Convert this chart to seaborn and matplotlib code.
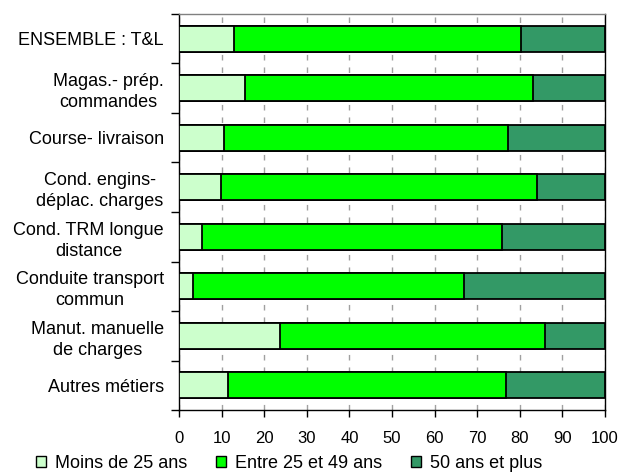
import matplotlib
matplotlib.use("Agg")
import matplotlib.pyplot as plt
from matplotlib.patches import Patch
import numpy as np
import pandas as pd
import seaborn as sns

# Occupations (multi-line labels are centred on each other)
categories = [
    "ENSEMBLE : T&L",
    "Magas.- prép.\ncommandes",
    "Course- livraison",
    "Cond. engins-\ndéplac. charges",
    "Cond. TRM longue\ndistance",
    "Conduite transport\ncommun",
    "Manut. manuelle\nde charges",
    "Autres métiers",
]

# Age-group shares (%)
moins_25 = [12.8, 15.5, 10.6, 9.8, 5.5, 3.4, 23.7, 11.6]
entre_25_49 = [67.4, 67.6, 66.6, 74.3, 70.3, 63.4, 62.2, 65.1]
plus_50 = [19.8, 16.9, 22.8, 15.9, 24.2, 33.2, 14.1, 23.3]

series_names = ["Moins de 25 ans", "Entre 25 et 49 ans", "50 ans et plus"]
colors = ["#CCFFCC", "#00FF00", "#339966"]
x_ticks = [0, 10, 20, 30, 40, 50, 60, 70, 80, 90, 100]

sns.set_theme(style="white")
plt.rcParams["font.family"] = ["Liberation Sans", "DejaVu Sans"]
plt.rcParams["font.size"] = 12
plt.rcParams["text.color"] = "black"
plt.rcParams["xtick.color"] = "black"
plt.rcParams["ytick.color"] = "black"

df = pd.DataFrame({
    "metier": categories,
    "moins": moins_25,
    "entre": entre_25_49,
    "plus": plus_50,
})
# cumulative ends of each stacked segment
df["c1"] = df["moins"]
df["c2"] = df["moins"] + df["entre"]
df["c3"] = df["moins"] + df["entre"] + df["plus"]

fig = plt.figure(figsize=(6.21, 4.73), dpi=100)
ax = fig.add_axes([179 / 621, 1 - 410 / 473, (605 - 179) / 621, (410 - 14) / 473])

# draw stacked segments back to front
for col, color in zip(["c3", "c2", "c1"], colors[::-1]):
    sns.barplot(data=df, x=col, y="metier", orient="h", color=color,
                width=0.52, edgecolor="black", linewidth=1.3,
                saturation=1, ax=ax, zorder=3)

ax.set_xlim(0, 100)
ax.set_ylim(len(categories) - 0.5, -0.5)
ax.set_xlabel("")
ax.set_ylabel("")

ax.set_xticks(x_ticks)
ax.set_xticklabels([str(t) for t in x_ticks], fontsize=12)
ax.tick_params(axis="x", direction="out", length=5, width=1, color="black",
               labelcolor="black", bottom=True, pad=10)

ax.set_yticks(np.arange(len(categories)))
ax.set_yticklabels(categories, fontsize=13)
for lbl in ax.get_yticklabels():
    lbl.set_multialignment("center")
    lbl.set_linespacing(1.3)
    lbl.set_color("black")
ax.tick_params(axis="y", which="major", length=0, pad=11)
ax.set_yticks(np.arange(len(categories) + 1) - 0.5, minor=True)
ax.tick_params(axis="y", which="minor", direction="out", length=6, width=1,
               color="black", left=True)

ax.set_axisbelow(True)
ax.xaxis.grid(True, color="#A0A0A0", linewidth=1, linestyle=(0, (4, 5)))
ax.yaxis.grid(False)

for side in ["left", "bottom", "right"]:
    ax.spines[side].set_color("black")
    ax.spines[side].set_linewidth(1)
    ax.spines[side].set_visible(True)
ax.spines["top"].set_color("#808080")
ax.spines["top"].set_linewidth(1)

handles = [Patch(facecolor=c, edgecolor="black", linewidth=1) for c in colors]
fig.legend(handles, series_names, loc="center", bbox_to_anchor=(0.465, 0.021),
           ncol=3, frameon=False, fontsize=13, handlelength=0.55,
           handleheight=0.55, handletextpad=0.5, columnspacing=1.6)

fig.savefig("out.png", dpi=100)
